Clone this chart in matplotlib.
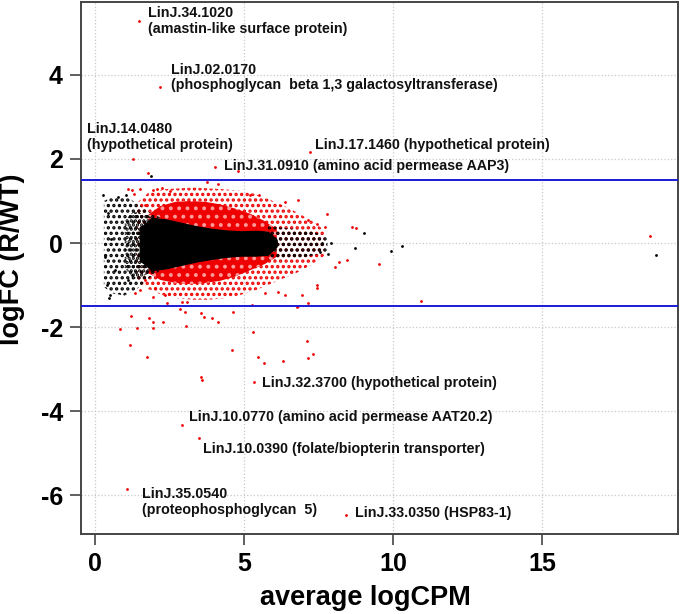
import matplotlib
matplotlib.use('Agg')
import matplotlib.pyplot as plt

plt.rcParams['font.family'] = ['Liberation Sans', 'DejaVu Sans']
plt.rcParams['font.weight'] = 'bold'
plt.rcParams['axes.unicode_minus'] = False
plt.rcParams['hatch.linewidth'] = 1.6

# x ticks / y ticks
xTicks = [0, 5, 10, 15]
yTicks = [-6, -4, -2, 0, 2, 4]
foldLimit = 1.5

# dense black core of the cloud (envelope)
coreX = [1.5, 1.9, 2.4, 2.9, 3.4, 3.9, 4.4, 4.9, 5.4, 5.8, 6.1]
coreHi = [0.35, 0.6, 0.56, 0.48, 0.4, 0.34, 0.3, 0.28, 0.29, 0.27, 0.08]
coreLo = [-0.4, -0.65, -0.6, -0.52, -0.44, -0.38, -0.33, -0.3, -0.3, -0.28, -0.08]

# dense red band
redDenseX = [1.8, 2.2, 2.7, 3.2, 3.7, 4.2, 4.7, 5.2, 5.7, 6.1]
redDenseHi = [0.68, 0.88, 0.98, 1.0, 0.98, 0.92, 0.82, 0.7, 0.52, 0.33]
redDenseLo = [-0.72, -0.88, -0.95, -0.98, -0.95, -0.9, -0.8, -0.65, -0.5, -0.33]

# sparse red halo
redSparseX = [1.4, 1.8, 2.3, 2.8, 3.3, 3.8, 4.3, 4.8, 5.3, 5.8, 6.3, 6.8, 7.3, 7.7]
redSparseHi = [0.95, 1.2, 1.28, 1.3, 1.32, 1.3, 1.28, 1.25, 1.18, 1.05, 0.9, 0.72, 0.52, 0.3]
redSparseLo = [-0.9, -1.1, -1.25, -1.32, -1.35, -1.35, -1.32, -1.25, -1.15, -1.0, -0.85, -0.7, -0.5, -0.3]

# sparse black points, low counts (left), transition zone and right tail
blackLeftX = [0.3, 0.6, 1.0, 1.4, 1.8, 2.2]
blackLeftHi = [1.0, 1.1, 1.12, 0.95, 0.75, 0.6]
blackLeftLo = [-1.05, -1.2, -1.25, -1.1, -0.85, -0.65]
blackMidX = [1.0, 1.3, 1.6, 1.9]
blackMidHi = [0.55, 0.75, 0.7, 0.62]
blackMidLo = [-0.6, -0.85, -0.8, -0.68]
blackTailX = [5.8, 6.5, 7.2, 7.8]
blackTailHi = [0.4, 0.35, 0.3, 0.15]
blackTailLo = [-0.4, -0.38, -0.32, -0.2]

# single significant genes (red) outside the cloud
redX = [1.48, 2.18, 1.28, 7.2, 4.03, 5.34, 2.92, 3.49, 1.07, 8.42,
        0.84, 1.21, 1.17, 1.41, 1.75, 1.81, 1.95, 1.95, 2.3, 2.85,
        3.02, 3.05, 3.56, 3.58, 3.56, 3.66, 3.92, 4.13, 4.6, 4.63,
        5.3, 5.47, 5.67, 6.3, 7.11, 7.15, 7.32, 6.81, 7.15, 10.94,
        1.78, 3.76, 4.13, 4.8,
        1.24, 1.51, 2.08, 2.25, 2.52, 1.11, 1.31, 1.68, 1.95, 5.5,
        5.2, 6.38, 6.81, 7.15, 7.45, 7.72, 7.79, 8.62, 8.75, 18.62,
        1.51, 1.34, 1.68, 2.01, 2.35, 1.95, 2.42, 2.92, 3.09, 5.27,
        5.7, 6.14, 6.38, 6.95, 7.45, 7.45, 6.78, 8.05, 8.2, 8.46, 9.53]
redY = [5.29, 3.71, 2.0, 2.17, 1.81, -3.31, -4.33, -4.64, -5.86, -6.47,
        -2.05, -1.74, -2.43, -2.02, -2.71, -1.79, -1.88, -2.02, -1.88, -1.57,
        -1.64, -1.98, -3.19, -3.25, -1.67, -1.76, -1.79, -1.88, -2.55, -1.64,
        -2.12, -2.71, -2.86, -2.81, -2.33, -2.74, -2.64, -1.5, -1.43, -1.38,
        1.67, 1.45, 1.4, 1.72,
        1.26, 1.29, 1.29, 1.31, 1.24, 1.29, 1.17, 0.9, 1.26, 1.14,
        1.14, 0.98, 1.02, 0.55, 0.45, 0.38, 0.69, 0.38, 0.36, 0.17,
        -1.12, -1.19, -0.88, -1.07, -1.24, -1.29, -1.43, -1.4, -1.4, -1.48,
        -1.19, -1.17, -1.24, -1.24, -1.0, -1.07, -1.52, -0.57, -0.45, -0.4, -0.5]

# single non-significant genes (black) outside the cloud
blackX = [1.88, 0.27, 0.47, 0.5, 0.4, 0.34, 0.54, 0.77, 1.04, 0.44, 0.67,
          1.11, 1.24, 9.03, 8.72, 7.92, 7.62, 9.93, 10.3, 7.82, 7.55, 18.83]
blackY = [1.6, 1.14, -1.31, -1.24, -1.0, -0.33, 0.1, 1.1, 1.14, 0.71, -0.64,
          -0.88, -0.76, 0.24, -0.12, 0.0, 0.0, -0.19, -0.07, -0.26, -0.21, -0.29]

# annotated genes: label, text anchor (x, y)
labels = ['LinJ.34.1020\n(amastin-like surface protein)',
          'LinJ.02.0170\n(phosphoglycan  beta 1,3 galactosyltransferase)',
          'LinJ.14.0480\n(hypothetical protein)',
          'LinJ.17.1460 (hypothetical protein)',
          'LinJ.31.0910 (amino acid permease AAP3)',
          'LinJ.32.3700 (hypothetical protein)',
          'LinJ.10.0770 (amino acid permease AAT20.2)',
          'LinJ.10.0390 (folate/biopterin transporter)',
          'LinJ.35.0540\n(proteophosphoglycan  5)',
          'LinJ.33.0350 (HSP83-1)']
labelX = [1.78, 2.55, -0.27, 7.38, 4.33, 5.6, 3.15, 3.62, 1.58, 8.72]
labelY = [5.29, 3.94, 2.52, 2.33, 1.83, -3.33, -4.14, -4.9, -6.17, -6.43]


fig = plt.figure(figsize=(6.8, 6.14), dpi=100)
ax = fig.add_axes([0.119, 0.130, 0.878, 0.867])

# grid
for xt in xTicks:
    ax.axvline(xt, color='#c8c8c8', lw=0.9, ls=':', zorder=0)
for yt in yTicks:
    ax.axhline(yt, color='#c8c8c8', lw=0.9, ls=':', zorder=0)

# sparse red halo, drawn as dot hatch
ax.fill_between(redSparseX, redSparseLo, redSparseHi, facecolor='none',
                edgecolor='#ee0000', hatch='...', linewidth=0, zorder=1)
# dense red band
ax.fill_between(redDenseX, redDenseLo, redDenseHi, facecolor='#ee0000',
                edgecolor='#ff9a9a', hatch='..', linewidth=0, zorder=2)
# sparse black regions
ax.fill_between(blackLeftX, blackLeftLo, blackLeftHi, facecolor='none',
                edgecolor='black', hatch='...', linewidth=0, zorder=2)
ax.fill_between(blackMidX, blackMidLo, blackMidHi, facecolor='none',
                edgecolor='black', hatch='....', linewidth=0, zorder=2)
ax.fill_between(blackTailX, blackTailLo, blackTailHi, facecolor='none',
                edgecolor='black', hatch='...', linewidth=0, zorder=2)
# dense black core
ax.fill_between(coreX, coreLo, coreHi, facecolor='black',
                edgecolor='black', linewidth=0.8, zorder=3)

ax.scatter(blackX, blackY, s=4, c='black', linewidths=0, zorder=4)
ax.scatter(redX, redY, s=4, c='#ee0000', linewidths=0, zorder=4)

# fold change limits
ax.axhline(foldLimit, color='#1a1ad8', lw=1.4, zorder=5)
ax.axhline(-foldLimit, color='#1a1ad8', lw=1.4, zorder=5)

for txt, tx, ty in zip(labels, labelX, labelY):
    ax.text(tx, ty, txt, fontsize=10.3, fontweight='bold', ha='left',
            va='center', linespacing=1.15, color='#111111', zorder=6)

ax.set_xlim(-0.47, 19.56)
ax.set_ylim(-6.93, 5.74)
ax.set_xticks(xTicks)
ax.set_yticks(yTicks)
ax.tick_params(axis='both', length=8, width=1.2, color='#444444',
               labelsize=18, pad=5)
for lab in ax.get_xticklabels() + ax.get_yticklabels():
    lab.set_fontweight('bold')
for sp in ax.spines.values():
    sp.set_color('#444444')
    sp.set_linewidth(1.4)

fig.text(0.537, 0.026, 'average logCPM', fontsize=19.5, fontweight='bold',
         ha='center', va='center')
fig.text(0.018, 0.577, 'logFC (R/WT)', fontsize=19.5, fontweight='bold',
         ha='center', va='center', rotation=90)

fig.savefig('out.png', dpi=100)
